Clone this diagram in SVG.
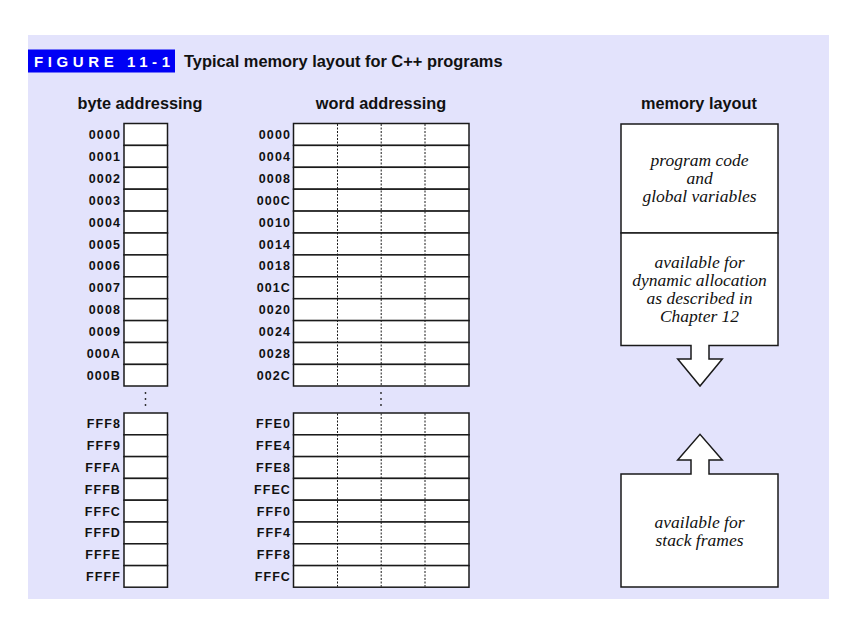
<svg xmlns="http://www.w3.org/2000/svg" width="844" height="624" viewBox="0 0 844 624">
  <defs>
    <style>
      .panel { fill: #e3e3fc; }
      .cell { fill: #ffffff; stroke: #1a1a1a; stroke-width: 1.5; }
      .div { stroke: #1a1a1a; stroke-width: 1; stroke-dasharray: 2 1.5; }
      .addr { font-family: "Liberation Sans", Arial, sans-serif; font-weight: bold; font-size: 12.5px; fill: #111; text-anchor: end; letter-spacing: 1.1px; }
      .head { font-family: "Liberation Sans", Arial, sans-serif; font-weight: bold; font-size: 16.3px; fill: #111; text-anchor: middle; }
      .title { font-family: "Liberation Sans", Arial, sans-serif; font-weight: bold; font-size: 16.4px; fill: #111; }
      .fig { font-family: "Liberation Sans", Arial, sans-serif; font-weight: bold; font-size: 15px; fill: #ffffff; letter-spacing: 4.6px; }
      .mem { font-family: "Liberation Serif", "Times New Roman", serif; font-style: italic; font-size: 17.5px; fill: #111; text-anchor: middle; }
      .dot { fill: #222; }
    </style>
  </defs>

  <rect class="panel" x="28" y="35" width="801" height="564"/>

  <!-- caption -->
  <g id="caption">
    <rect x="28" y="49.5" width="147" height="23" fill="#0000f5"/>
    <text class="fig" x="34" y="67">FIGURE 11-1</text>
    <text class="title" x="184" y="67">Typical memory layout for C++ programs</text>
  </g>

  <!-- column headings -->
  <text class="head" x="140" y="109">byte addressing</text>
  <text class="head" x="381" y="109">word addressing</text>
  <text class="head" x="699" y="109">memory layout</text>

  <!-- byte addressing column -->
  <g id="byte-top">
    <rect class="cell" x="124" y="123.5" width="43.5" height="21.9"/>
    <rect class="cell" x="124" y="145.4" width="43.5" height="21.9"/>
    <rect class="cell" x="124" y="167.3" width="43.5" height="21.9"/>
    <rect class="cell" x="124" y="189.2" width="43.5" height="21.9"/>
    <rect class="cell" x="124" y="211.1" width="43.5" height="21.9"/>
    <rect class="cell" x="124" y="233" width="43.5" height="21.9"/>
    <rect class="cell" x="124" y="254.9" width="43.5" height="21.9"/>
    <rect class="cell" x="124" y="276.8" width="43.5" height="21.9"/>
    <rect class="cell" x="124" y="298.7" width="43.5" height="21.9"/>
    <rect class="cell" x="124" y="320.6" width="43.5" height="21.9"/>
    <rect class="cell" x="124" y="342.5" width="43.5" height="21.9"/>
    <rect class="cell" x="124" y="364.4" width="43.5" height="21.6"/>
    <text class="addr" x="121" y="139">0000</text>
    <text class="addr" x="121" y="160.9">0001</text>
    <text class="addr" x="121" y="182.8">0002</text>
    <text class="addr" x="121" y="204.7">0003</text>
    <text class="addr" x="121" y="226.6">0004</text>
    <text class="addr" x="121" y="248.5">0005</text>
    <text class="addr" x="121" y="270.4">0006</text>
    <text class="addr" x="121" y="292.3">0007</text>
    <text class="addr" x="121" y="314.2">0008</text>
    <text class="addr" x="121" y="336.1">0009</text>
    <text class="addr" x="121" y="358">000A</text>
    <text class="addr" x="121" y="379.9">000B</text>
  </g>
  <g id="byte-gap">
    <circle class="dot" cx="145.5" cy="393" r="0.9"/>
    <circle class="dot" cx="145.5" cy="399" r="0.9"/>
    <circle class="dot" cx="145.5" cy="405" r="0.9"/>
  </g>
  <g id="byte-bottom">
    <rect class="cell" x="124" y="413" width="43.5" height="21.8"/>
    <rect class="cell" x="124" y="434.8" width="43.5" height="21.8"/>
    <rect class="cell" x="124" y="456.6" width="43.5" height="21.8"/>
    <rect class="cell" x="124" y="478.4" width="43.5" height="21.8"/>
    <rect class="cell" x="124" y="500.2" width="43.5" height="21.8"/>
    <rect class="cell" x="124" y="522" width="43.5" height="21.8"/>
    <rect class="cell" x="124" y="543.8" width="43.5" height="21.8"/>
    <rect class="cell" x="124" y="565.6" width="43.5" height="21.6"/>
    <text class="addr" x="121" y="428.3">FFF8</text>
    <text class="addr" x="121" y="450.1">FFF9</text>
    <text class="addr" x="121" y="471.9">FFFA</text>
    <text class="addr" x="121" y="493.7">FFFB</text>
    <text class="addr" x="121" y="515.5">FFFC</text>
    <text class="addr" x="121" y="537.3">FFFD</text>
    <text class="addr" x="121" y="559.1">FFFE</text>
    <text class="addr" x="121" y="580.9">FFFF</text>
  </g>

  <!-- word addressing column -->
  <g id="word-top">
    <rect class="cell" x="293.5" y="123.5" width="175.5" height="21.9"/>
    <rect class="cell" x="293.5" y="145.4" width="175.5" height="21.9"/>
    <rect class="cell" x="293.5" y="167.3" width="175.5" height="21.9"/>
    <rect class="cell" x="293.5" y="189.2" width="175.5" height="21.9"/>
    <rect class="cell" x="293.5" y="211.1" width="175.5" height="21.9"/>
    <rect class="cell" x="293.5" y="233" width="175.5" height="21.9"/>
    <rect class="cell" x="293.5" y="254.9" width="175.5" height="21.9"/>
    <rect class="cell" x="293.5" y="276.8" width="175.5" height="21.9"/>
    <rect class="cell" x="293.5" y="298.7" width="175.5" height="21.9"/>
    <rect class="cell" x="293.5" y="320.6" width="175.5" height="21.9"/>
    <rect class="cell" x="293.5" y="342.5" width="175.5" height="21.9"/>
    <rect class="cell" x="293.5" y="364.4" width="175.5" height="21.6"/>
    <line class="div" x1="337.5" y1="124" x2="337.5" y2="385.5"/>
    <line class="div" x1="381.2" y1="124" x2="381.2" y2="385.5"/>
    <line class="div" x1="425" y1="124" x2="425" y2="385.5"/>
    <text class="addr" x="291" y="139">0000</text>
    <text class="addr" x="291" y="160.9">0004</text>
    <text class="addr" x="291" y="182.8">0008</text>
    <text class="addr" x="291" y="204.7">000C</text>
    <text class="addr" x="291" y="226.6">0010</text>
    <text class="addr" x="291" y="248.5">0014</text>
    <text class="addr" x="291" y="270.4">0018</text>
    <text class="addr" x="291" y="292.3">001C</text>
    <text class="addr" x="291" y="314.2">0020</text>
    <text class="addr" x="291" y="336.1">0024</text>
    <text class="addr" x="291" y="358">0028</text>
    <text class="addr" x="291" y="379.9">002C</text>
  </g>
  <g id="word-gap">
    <circle class="dot" cx="381" cy="393" r="0.9"/>
    <circle class="dot" cx="381" cy="399" r="0.9"/>
    <circle class="dot" cx="381" cy="405" r="0.9"/>
  </g>
  <g id="word-bottom">
    <rect class="cell" x="293.5" y="413" width="175.5" height="21.8"/>
    <rect class="cell" x="293.5" y="434.8" width="175.5" height="21.8"/>
    <rect class="cell" x="293.5" y="456.6" width="175.5" height="21.8"/>
    <rect class="cell" x="293.5" y="478.4" width="175.5" height="21.8"/>
    <rect class="cell" x="293.5" y="500.2" width="175.5" height="21.8"/>
    <rect class="cell" x="293.5" y="522" width="175.5" height="21.8"/>
    <rect class="cell" x="293.5" y="543.8" width="175.5" height="21.8"/>
    <rect class="cell" x="293.5" y="565.6" width="175.5" height="21.6"/>
    <line class="div" x1="337.5" y1="413.5" x2="337.5" y2="586.7"/>
    <line class="div" x1="381.2" y1="413.5" x2="381.2" y2="586.7"/>
    <line class="div" x1="425" y1="413.5" x2="425" y2="586.7"/>
    <text class="addr" x="291" y="428.3">FFE0</text>
    <text class="addr" x="291" y="450.1">FFE4</text>
    <text class="addr" x="291" y="471.9">FFE8</text>
    <text class="addr" x="291" y="493.7">FFEC</text>
    <text class="addr" x="291" y="515.5">FFF0</text>
    <text class="addr" x="291" y="537.3">FFF4</text>
    <text class="addr" x="291" y="559.1">FFF8</text>
    <text class="addr" x="291" y="580.9">FFFC</text>
  </g>

  <!-- memory layout column: each block's label is one multi-line text -->
  <g id="code-globals">
    <rect class="cell" x="621" y="124" width="157" height="109"/>
    <text class="mem" x="699.5" y="166">program code<tspan x="699.5" dy="18">and</tspan><tspan x="699.5" dy="18">global variables</tspan></text>
  </g>
  <g id="heap">
    <path class="cell" d="M621,233 H778 V345.5 H709 V359 H722.3 L700,386 L677.7,359 H691 V345.5 H621 Z"/>
    <text class="mem" x="699.5" y="268">available for<tspan x="699.5" dy="18">dynamic allocation</tspan><tspan x="699.5" dy="18">as described in</tspan><tspan x="699.5" dy="18">Chapter 12</tspan></text>
  </g>
  <g id="stack">
    <path class="cell" d="M621,474 H691 V460 H677.7 L700,434.3 L722.3,460 H709 V474 H778 V587 H621 Z"/>
    <text class="mem" x="699.5" y="528">available for<tspan x="699.5" dy="18">stack frames</tspan></text>
  </g>
</svg>
